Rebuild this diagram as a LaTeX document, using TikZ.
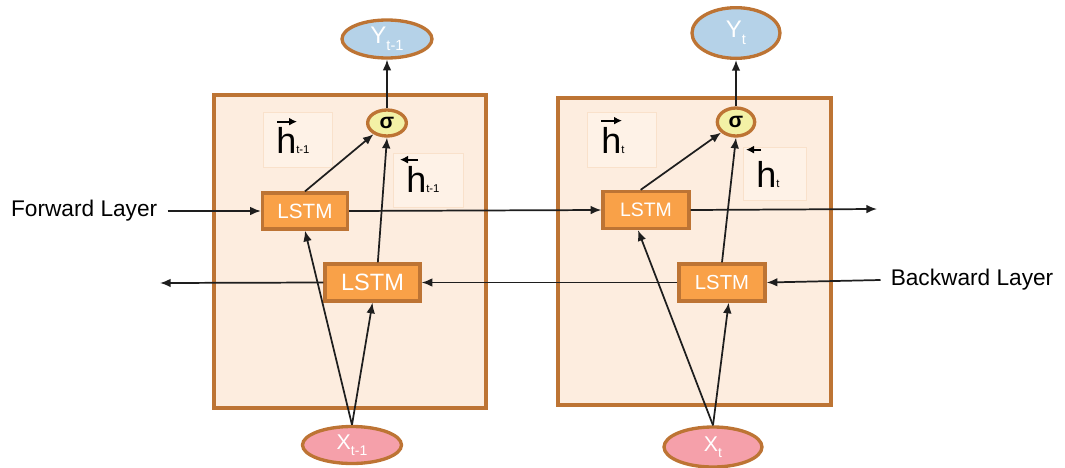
\documentclass[tikz,border=0pt]{standalone}
\usepackage{fontspec}
\setmainfont{Liberation Sans}
\usetikzlibrary{arrows.meta,shapes.geometric}
\definecolor{boxfill}{HTML}{FDEDDF}
\definecolor{brownline}{HTML}{BD7434}
\definecolor{lstmfill}{HTML}{F9A148}
\definecolor{yfill}{HTML}{B5D2E8}
\definecolor{xfill}{HTML}{F5A0AA}
\definecolor{sfill}{HTML}{F3F1A6}
\definecolor{labelline}{HTML}{F9E1CB}
\definecolor{labelfill}{HTML}{FEF2E7}
\definecolor{ink}{HTML}{1E1E1E}
\begin{document}
\begin{tikzpicture}[x=0.75pt,y=-0.75pt,
  cell/.style={draw=brownline,line width=2.5pt,fill=boxfill},
  labelbox/.style={draw=labelline,line width=0.6pt,fill=labelfill},
  lstm/.style={rectangle,draw=brownline,fill=lstmfill,line width=2.5pt,text=white,inner sep=0pt},
  oval/.style={ellipse,draw=brownline,line width=2.5pt,inner sep=0pt},
  conn/.style={draw=ink,line width=1.3pt,-{Latex[length=8pt,width=6.5pt]}},
  vecarrow/.style={draw=black,line width=1.3pt,-{Latex[length=6pt,width=6pt]}},
  hlab/.style={inner sep=0pt,anchor=base west,font=\fontsize{27}{30}\selectfont},
  layertext/.style={inner sep=0pt,inner xsep=7.5pt,font=\fontsize{17}{20}\selectfont}
]
\useasboundingbox (0,0) rectangle (1065,468);

% cells
\draw[cell] (214,95) rectangle (486,408);
\draw[cell] (558,98) rectangle (831,405);

% label boxes
\draw[labelbox] (263,112) rectangle (332,167);
\draw[labelbox] (393,153) rectangle (463,207);
\draw[labelbox] (587,112) rectangle (656,167);
\draw[labelbox] (743,147) rectangle (806,200);

% hidden-state labels
\node[hlab] (hf1) at (276,153) {h{\fontsize{8.5}{10}\selectfont t-1}};
\node[hlab] (hb1) at (406,192) {h{\fontsize{8.5}{10}\selectfont t-1}};
\node[hlab] (hf2) at (601,153) {h{\fontsize{8.5}{10}\selectfont t}};
\node[hlab] (hb2) at (756,187) {h{\fontsize{8.5}{10}\selectfont t}};
\draw[vecarrow] ([shift={(1,-5)}]hf1.north west) -- ++(20,0);
\draw[vecarrow] ([shift={(12,-6)}]hb1.north west) -- ++(-18,0);
\draw[vecarrow] ([shift={(0,-6)}]hf2.north west) -- ++(21,0);
\draw[vecarrow] ([shift={(5,-11)}]hb2.north west) -- ++(-15,0);

% outputs
\node[oval,fill=yfill,minimum width=67.5pt,minimum height=28.5pt,text=white,font=\fontsize{18}{20}\selectfont] (y1) at (387,39) {Y\raisebox{-0.3em}{\fontsize{11}{12}\selectfont t-1}};
\node[oval,fill=yfill,minimum width=66pt,minimum height=38pt,text=white,font=\fontsize{18}{20}\selectfont] (y2) at (736,33) {Y\raisebox{-0.3em}{\fontsize{11}{12}\selectfont t}};

% sigma
\node[oval,fill=sfill,minimum width=29pt,minimum height=19.5pt,font=\fontsize{16}{18}\selectfont\bfseries] (s1) at (387,123) {σ};
\node[oval,fill=sfill,minimum width=28pt,minimum height=21pt,font=\fontsize{16}{18}\selectfont\bfseries] (s2) at (736,122) {σ};

% LSTM cells
\node[lstm,minimum width=63.75pt,minimum height=27pt,font=\fontsize{15.5}{18}\selectfont] (lf1) at (305,211) {LSTM};
\node[lstm,minimum width=64.5pt,minimum height=27.75pt,font=\fontsize{14.6}{17}\selectfont] (lf2) at (646,210) {LSTM};
\node[lstm,minimum width=71.25pt,minimum height=27.75pt,font=\fontsize{17.7}{20}\selectfont] (lb1) at (372.5,282.5) {LSTM};
\node[lstm,minimum width=64.5pt,minimum height=27.75pt,font=\fontsize{15.2}{18}\selectfont] (lb2) at (722,282.5) {LSTM};

% inputs
\node[oval,fill=xfill,minimum width=74.25pt,minimum height=27.75pt,text=white,font=\fontsize{16}{18}\selectfont] (x1) at (352,445) {X\raisebox{-0.3em}{\fontsize{10.5}{12}\selectfont t-1}};
\node[oval,fill=xfill,minimum width=73.5pt,minimum height=30pt,text=white,font=\fontsize{16}{18}\selectfont] (x2) at (713,447) {X\raisebox{-0.3em}{\fontsize{10.5}{12}\selectfont t}};

% layer labels
\node[layertext,anchor=east] (fwd) at (167.5,211) {Forward Layer};
\node[layertext,anchor=west] (bwd) at (880.5,280) {Backward Layer};
\coordinate (fend) at (877,209);
\coordinate (bend) at (160,283);

% connectors
\draw[conn] (fwd.east) -- (lf1.west);
\draw[conn] (lf1.east) -- (lf2.west);
\draw[conn] (lf2.east) -- (fend);
\draw[conn] (bwd.west) -- (lb2.east);
\draw[conn] (lb2.west) -- (lb1.east);
\draw[conn] (lb1.west) -- (bend);

\draw[conn] (x1.north) -- (lf1.south);
\draw[conn] (x1.north) -- (lb1.south);
\draw[conn] (x2.north) -- ([xshift=-6]lf2.south);
\draw[conn] (x2.north) -- ([xshift=5]lb2.south);

\draw[conn] (lf1.north) -- (s1);
\draw[conn] ([xshift=4]lb1.north) -- (s1.south);
\draw[conn] ([xshift=-4]lf2.north) -- (s2);
\draw[conn] (lb2.north) -- (s2.south);

\draw[conn] (s1.north) -- (y1.south);
\draw[conn] (s2.north) -- (y2.south);
\end{tikzpicture}
\end{document}
